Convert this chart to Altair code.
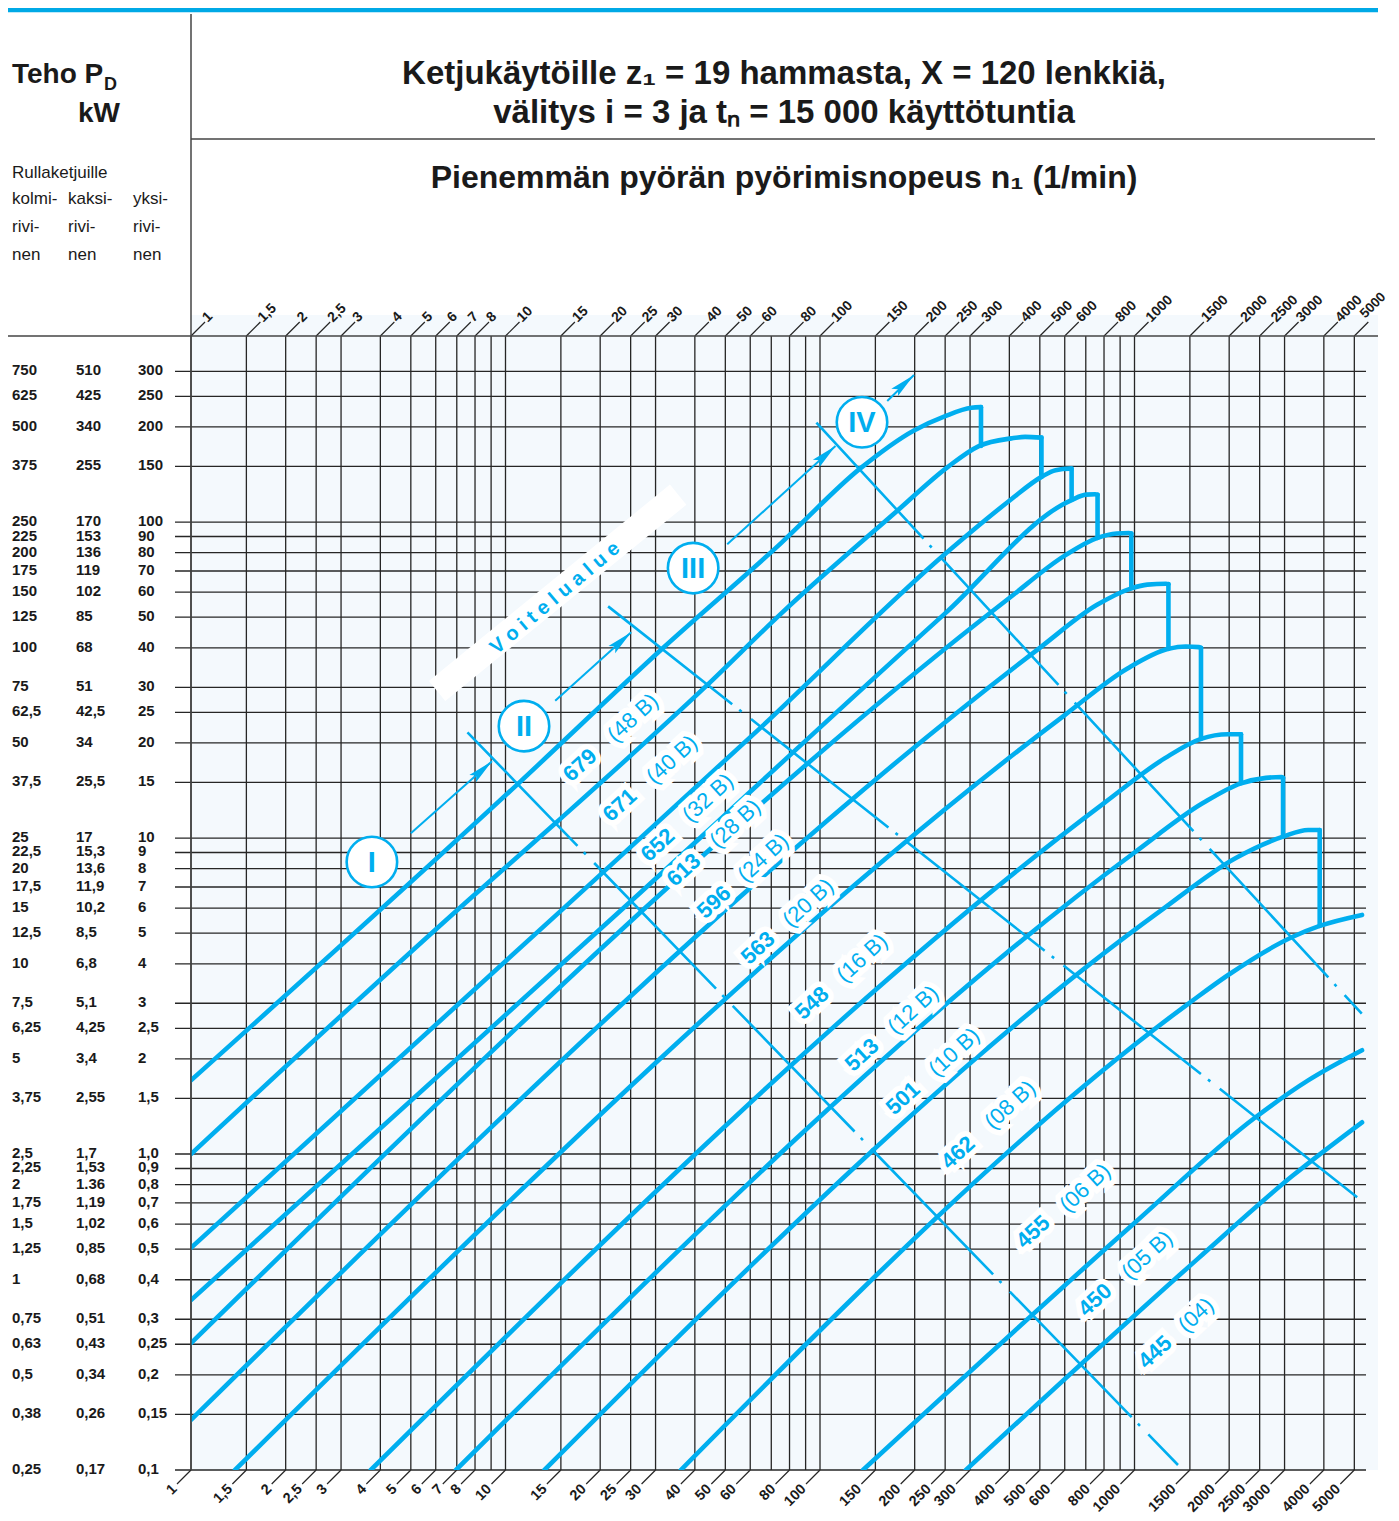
import altair as alt
import pandas as pd

# ---------------- layout / style ----------------
W, H = 1175, 1134
N_MIN, N_MAX = 1, 5446
P_MIN, P_MAX = 0.1, 388
BLUE = "#00aeef"
GRID = "#262626"
BG = "#f4f9fd"
SANS = "Liberation Sans, Arial, sans-serif"

# ---------------- data ----------------
grid_n = [1, 1.5, 2, 2.5, 3, 4, 5, 6, 7, 8, 9, 10, 15, 20, 25, 30, 40, 50, 60, 70, 80, 90,
          100, 150, 200, 250, 300, 400, 500, 600, 700, 800, 900, 1000, 1500, 2000, 2500,
          3000, 4000, 5000]
tick_n = [1, 1.5, 2, 2.5, 3, 4, 5, 6, 7, 8, 10, 15, 20, 25, 30, 40, 50, 60, 80, 100, 150,
          200, 250, 300, 400, 500, 600, 800, 1000, 1500, 2000, 2500, 3000, 4000, 5000]
tick_lab = ["1", "1,5", "2", "2,5", "3", "4", "5", "6", "7", "8", "10", "15", "20", "25",
            "30", "40", "50", "60", "80", "100", "150", "200", "250", "300", "400", "500",
            "600", "800", "1000", "1500", "2000", "2500", "3000", "4000", "5000"]

grid_p = [300, 250, 200, 150, 100, 90, 80, 70, 60, 50, 40, 30, 25, 20, 15, 10, 9, 8, 7, 6,
          5, 4, 3, 2.5, 2, 1.5, 1.0, 0.9, 0.8, 0.7, 0.6, 0.5, 0.4, 0.3, 0.25, 0.2, 0.15, 0.1]
lab_yksi = ["300", "250", "200", "150", "100", "90", "80", "70", "60", "50", "40", "30", "25",
            "20", "15", "10", "9", "8", "7", "6", "5", "4", "3", "2,5", "2", "1,5", "1,0",
            "0,9", "0,8", "0,7", "0,6", "0,5", "0,4", "0,3", "0,25", "0,2", "0,15", "0,1"]
lab_kaksi = ["510", "425", "340", "255", "170", "153", "136", "119", "102", "85", "68", "51",
             "42,5", "34", "25,5", "17", "15,3", "13,6", "11,9", "10,2", "8,5", "6,8", "5,1",
             "4,25", "3,4", "2,55", "1,7", "1,53", "1.36", "1,19", "1,02", "0,85", "0,68",
             "0,51", "0,43", "0,34", "0,26", "0,17"]
lab_kolmi = ["750", "625", "500", "375", "250", "225", "200", "175", "150", "125", "100", "75",
             "62,5", "50", "37,5", "25", "22,5", "20", "17,5", "15", "12,5", "10", "7,5",
             "6,25", "5", "3,75", "2,5", "2,25", "2", "1,75", "1,5", "1,25", "1", "0,75",
             "0,63", "0,5", "0,38", "0,25"]

# chain curves: rpm n1 and power (single-row, kW)
n_48B = [1, 11.0, 31.3, 75.2, 134, 199, 249, 303, 325]
p_48B = [1.71, 14.9, 39.5, 85.8, 147.6, 195, 216, 230, 231]
n_40B = [1, 7.6, 14.5, 43.5, 75.2, 175, 254, 320, 406, 449, 506]
p_40B = [1.0, 6.34, 11.2, 30.3, 51.3, 108, 149, 174, 184, 186, 185]
n_32B = [1, 14.9, 64.9, 254, 401, 506, 561, 622, 631]
p_32B = [0.505, 5.85, 22.4, 80.4, 117, 139, 146, 147.6, 147.6]
n_28B = [1, 25.1, 250, 631, 701, 750, 763]
p_28B = [0.345, 6.32, 51.4, 117.4, 122.1, 122.5, 122]
n_24B = [1, 398, 600, 763, 878, 960, 977]
p_24B = [0.252, 57.3, 78.3, 89.1, 92, 92.3, 92]
n_20B = [1, 500, 760, 977, 1099, 1260, 1282]
p_20B = [0.144, 40, 54.7, 61.7, 63.4, 63.8, 63.6]
n_16B = [1.38, 600, 950, 1282, 1455, 1600, 1627]
p_16B = [0.1, 24.5, 34.4, 39.7, 40.4, 40.2, 40]
n_12B = [3.73, 800, 1250, 1627, 1980, 2150, 2181]
p_12B = [0.1, 12.9, 17.9, 20.6, 21.3, 21.3, 21.3]
n_10B = [6.96, 1000, 1650, 2181, 2618, 2930, 2967]
p_10B = [0.1, 9.0, 12.9, 14.9, 15.5, 15.6, 15.5]
n_08B = [13.3, 1200, 2100, 2967, 3565, 3850, 3880]
p_08B = [0.1, 5.85, 8.65, 10.1, 10.6, 10.6, 10.6]
n_06B = [36.1, 1496, 1980, 3187, 3880, 5290]
p_06B = [0.1, 3.01, 3.68, 4.87, 5.27, 5.71]
n_05B = [137, 1000, 2408, 3565, 5290]
p_05B = [0.1, 0.605, 1.30, 1.71, 2.13]
n_04 = [291, 1585, 3165, 5290]
p_04 = [0.1, 0.465, 0.85, 1.26]

drop_n = [325, 506, 631, 763, 977, 1282, 1627, 2181, 2967, 3880]
drop_top = [231, 185, 147.6, 122, 92, 63.6, 40, 21.3, 15.5, 10.6]
drop_bot = [174, 139, 117.4, 89.1, 61.7, 39.7, 20.6, 14.9, 10.1, 5.27]

# chain labels
lab_num = ["679", "671", "652", "613", "596", "563", "548", "513", "501", "462", "455", "450", "445"]
lab_code = ["(48 B)", "(40 B)", "(32 B)", "(28 B)", "(24 B)", "(20 B)", "(16 B)", "(12 B)",
            "(10 B)", "(08 B)", "(06 B)", "(05 B)", "(04)"]
num_n = [17.26, 23.1, 30.5, 36.9, 46.0, 63.5, 94.3, 136, 183.6, 274.7, 475.7, 748.9, 1162]
num_p = [17.0, 12.7, 9.5, 7.92, 6.27, 4.49, 3.0, 2.06, 1.50, 1.01, 0.567, 0.345, 0.236]
code_n = [25.4, 33.8, 44.0, 53.7, 65.9, 91.6, 136, 197.6, 266.8, 401.9, 696, 1096, 1569]
code_p = [24.0, 17.7, 13.4, 11.1, 8.65, 6.23, 4.17, 2.86, 2.10, 1.43, 0.781, 0.479, 0.309]

# lubrication boundary lines II, III, IV
sep_name = ["II", "II", "III", "III", "IV", "IV"]
sep_n = [7.57, 1375, 21.2, 5279, 97.4, 5279]
sep_p = [21.6, 0.1037, 54.1, 0.711, 206.5, 2.78]

# arrows
arr_n0 = [5.0, 14.39, 50.7, 163.6]
arr_p0 = [10.35, 27.2, 85.0, 241.6]
arr_n1 = [9.06, 25.1, 112, 199]
arr_p1 = [17.5, 44.8, 174, 292]

# region circles
circ_lab = ["I", "II", "III", "IV"]
circ_n = [3.76, 11.45, 39.5, 136]
circ_p = [8.4, 22.6, 71.5, 207]

band_n = [6.06, 35.4]
band_p = [29.2, 122.1]
band_text_n = [14.37]
band_text_p = [57.5]

# ---------------- helpers ----------------
xs = alt.Scale(type="log", domain=[N_MIN, N_MAX], nice=False)
ys = alt.Scale(type="log", domain=[P_MIN, P_MAX], nice=False)


def X(f):
    return alt.X(f"{f}:Q", scale=xs, axis=None)


def Y(f):
    return alt.Y(f"{f}:Q", scale=ys, axis=None)


one = pd.DataFrame({"a": [0]})

layers = []

# background
layers.append(alt.Chart(one).mark_rect(color=BG).encode(
    x=alt.value(0), x2=alt.value(W + 12), y=alt.value(-21), y2=alt.value(H)))

# grid
layers.append(alt.Chart(pd.DataFrame({"n": grid_n})).mark_rule(color=GRID, strokeWidth=1.3).encode(
    x=X("n"), y=alt.value(0), y2=alt.value(H)))
layers.append(alt.Chart(pd.DataFrame({"p": grid_p})).mark_rule(color=GRID, strokeWidth=1.3).encode(
    y=Y("p"), x=alt.value(-16), x2=alt.value(W)))

tick_df = pd.DataFrame({"n": tick_n, "lab": tick_lab})
top_df = tick_df.iloc[:-1]
top_last = tick_df.iloc[-1:]
layers.append(alt.Chart(tick_df).mark_rule(color=GRID, strokeWidth=1.2, x2Offset=14).encode(
    x=X("n"), x2=alt.X2("n"), y=alt.value(0), y2=alt.value(-14)))
layers.append(alt.Chart(tick_df).mark_rule(color=GRID, strokeWidth=1.2, x2Offset=-14).encode(
    x=X("n"), x2=alt.X2("n"), y=alt.value(H), y2=alt.value(H + 14)))
layers.append(alt.Chart(top_df).mark_text(angle=315, align="left", baseline="middle", xOffset=14,
                                          font=SANS, fontSize=14, fontWeight="bold", color="#1a1a1a").encode(
    x=X("n"), y=alt.value(-16), text="lab:N"))
layers.append(alt.Chart(top_last).mark_text(angle=315, align="left", baseline="middle", xOffset=8,
                                            font=SANS, fontSize=13.5, fontWeight="bold", color="#1a1a1a").encode(
    x=X("n"), y=alt.value(-20), text="lab:N"))
layers.append(alt.Chart(tick_df).mark_text(angle=315, align="right", baseline="middle", xOffset=-16,
                                           font=SANS, fontSize=14.5, fontWeight="bold", color="#1a1a1a").encode(
    x=X("n"), y=alt.value(H + 17), text="lab:N"))

ylab_df = pd.DataFrame({"p": grid_p, "l1": lab_yksi, "l2": lab_kaksi, "l3": lab_kolmi})
for col, xpos in (("l3", -179), ("l2", -115), ("l1", -53)):
    layers.append(alt.Chart(ylab_df).mark_text(align="left", baseline="middle", font=SANS, fontSize=15,
                                               fontWeight="bold", color="#1a1a1a", dy=-1).encode(
        y=Y("p"), x=alt.value(xpos), text=f"{col}:N"))

# white band for "Voitelualue"
band_df = pd.DataFrame({"n0": [band_n[0]], "p0": [band_p[0]], "n1": [band_n[1]], "p1": [band_p[1]]})
layers.append(alt.Chart(band_df).mark_rule(color="white", strokeWidth=26).encode(
    x=X("n0"), y=Y("p0"), x2=alt.X2("n1"), y2=alt.Y2("p1")))

# boundary lines
sep_df = pd.DataFrame({"s": sep_name, "n": sep_n, "p": sep_p})
layers.append(alt.Chart(sep_df).mark_line(color=BLUE, strokeWidth=2.6, strokeDash=[175, 9, 3, 12],
                                          strokeDashOffset=17).encode(
    x=X("n"), y=Y("p"), detail="s:N"))

# chain curves
curve_rows = []
for name, ns, ps in (("48B", n_48B, p_48B), ("40B", n_40B, p_40B), ("32B", n_32B, p_32B),
                     ("28B", n_28B, p_28B), ("24B", n_24B, p_24B), ("20B", n_20B, p_20B),
                     ("16B", n_16B, p_16B), ("12B", n_12B, p_12B), ("10B", n_10B, p_10B),
                     ("08B", n_08B, p_08B), ("06B", n_06B, p_06B), ("05B", n_05B, p_05B),
                     ("04", n_04, p_04)):
    for a, b in zip(ns, ps):
        curve_rows.append({"c": name, "n": a, "p": b})
curve_df = pd.DataFrame(curve_rows)
layers.append(alt.Chart(curve_df).mark_line(color=BLUE, strokeWidth=4.6, interpolate="monotone",
                                            strokeCap="round", clip=True).encode(
    x=X("n"), y=Y("p"), detail="c:N"))
drop_df = pd.DataFrame({"n": drop_n, "t": drop_top, "b": drop_bot})
layers.append(alt.Chart(drop_df).mark_rule(color=BLUE, strokeWidth=4.6, strokeCap="round").encode(
    x=X("n"), y=Y("t"), y2=alt.Y2("b")))

# arrows
arr_df = pd.DataFrame({"n0": arr_n0, "p0": arr_p0, "n1": arr_n1, "p1": arr_p1})
layers.append(alt.Chart(arr_df).mark_rule(color=BLUE, strokeWidth=2).encode(
    x=X("n0"), y=Y("p0"), x2=alt.X2("n1"), y2=alt.Y2("p1")))
layers.append(alt.Chart(arr_df).mark_point(shape="M0,0L0.42,2.2L0,1.8L-0.42,2.2Z", size=560, angle=48,
                                           filled=True, color=BLUE, opacity=1).encode(
    x=X("n1"), y=Y("p1")))

# circles
circ_df = pd.DataFrame({"n": circ_n, "p": circ_p, "l": circ_lab})
layers.append(alt.Chart(circ_df).mark_point(shape="circle", size=2550, filled=True, fill="white",
                                            stroke=BLUE, strokeWidth=2.6, opacity=1, fillOpacity=1).encode(
    x=X("n"), y=Y("p")))
layers.append(alt.Chart(circ_df).mark_text(font=SANS, fontSize=29, fontWeight="bold", color=BLUE,
                                           baseline="middle", align="center", dy=1).encode(
    x=X("n"), y=Y("p"), text="l:N"))

# Voitelualue text
layers.append(alt.Chart(pd.DataFrame({"n": band_text_n, "p": band_text_p, "t": ["V o i t e l u a l u e"]}))
              .mark_text(angle=320, font=SANS, fontSize=20, fontWeight="bold", color=BLUE,
                         align="center", baseline="middle").encode(
    x=X("n"), y=Y("p"), text="t:N"))

# chain labels with white halo
num_df = pd.DataFrame({"n": num_n, "p": num_p, "t": lab_num})
code_df = pd.DataFrame({"n": code_n, "p": code_p, "t": lab_code})
for df, wt in ((num_df, "bold"), (code_df, "normal")):
    layers.append(alt.Chart(df).mark_text(angle=317.5, font=SANS, fontSize=22, fontWeight=wt,
                                          color="white", stroke="white", strokeWidth=11,
                                          align="center", baseline="middle").encode(
        x=X("n"), y=Y("p"), text="t:N"))
for df, wt in ((num_df, "bold"), (code_df, "normal")):
    layers.append(alt.Chart(df).mark_text(angle=317.5, font=SANS, fontSize=22, fontWeight=wt,
                                          color=BLUE, align="center", baseline="middle").encode(
        x=X("n"), y=Y("p"), text="t:N"))

# frame lines of the header
layers.append(alt.Chart(one).mark_rule(color="#00a9e6", strokeWidth=4.5).encode(
    x=alt.value(-183), x2=alt.value(W + 12), y=alt.value(-326)))
layers.append(alt.Chart(one).mark_rule(color="#444444", strokeWidth=1.5).encode(
    x=alt.value(0), y=alt.value(-322), y2=alt.value(H)))
layers.append(alt.Chart(one).mark_rule(color="#444444", strokeWidth=1.5).encode(
    x=alt.value(0), x2=alt.value(W + 9), y=alt.value(-197)))
layers.append(alt.Chart(one).mark_rule(color="#444444", strokeWidth=1.5).encode(
    x=alt.value(-183), x2=alt.value(W + 12), y=alt.value(0)))


def txt(s, x, y, size, weight="bold", align="left", font=SANS, color="#1a1a1a"):
    return alt.Chart(one).mark_text(text=s, font=font, fontSize=size, fontWeight=weight, align=align,
                                    baseline="alphabetic", color=color).encode(
        x=alt.value(x), y=alt.value(y))


layers += [
    txt("Teho P", -179, -253, 28),
    txt("D", -87, -246, 18),
    txt("kW", -71, -214, 28, align="right"),
    txt("Rullaketjuille", -179, -158, 17, weight="normal"),
    txt("kolmi-", -179, -132, 17, weight="normal"),
    txt("kaksi-", -123, -132, 17, weight="normal"),
    txt("yksi-", -58, -132, 17, weight="normal"),
    txt("rivi-", -179, -104, 17, weight="normal"),
    txt("rivi-", -123, -104, 17, weight="normal"),
    txt("rivi-", -58, -104, 17, weight="normal"),
    txt("nen", -179, -76, 17, weight="normal"),
    txt("nen", -123, -76, 17, weight="normal"),
    txt("nen", -58, -76, 17, weight="normal"),
    txt("Ketjukäytöille z\u2081 = 19 hammasta, X = 120 lenkkiä,", 593, -252, 33, align="center"),
    txt("välitys i = 3 ja t\u2099 = 15 000 käyttötuntia", 593, -213, 33, align="center"),
    txt("Pienemmän pyörän pyörimisnopeus n\u2081 (1/min)", 593, -148, 32, align="center"),
]

chart = alt.layer(*layers).properties(
    width=W, height=H,
    padding={"left": 183, "top": 328, "right": 25, "bottom": 45},
    autosize=alt.AutoSizeParams(type="none"),
).configure_view(stroke=None)

chart.save("out.html", embed_options={"renderer": "svg", "actions": False})
